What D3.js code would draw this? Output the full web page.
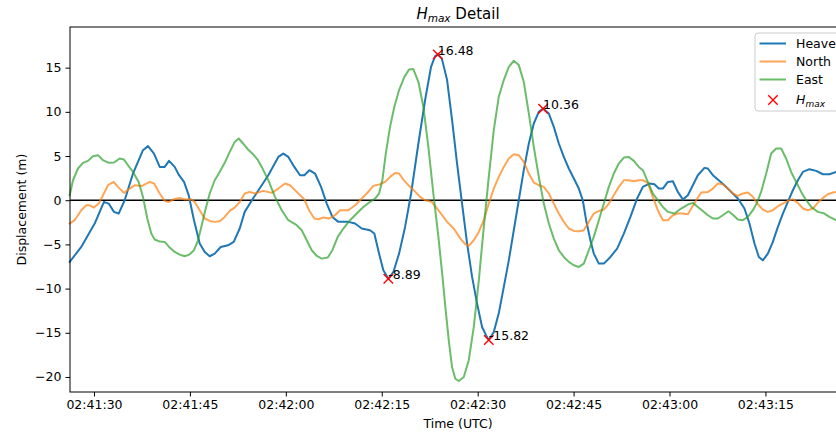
<!DOCTYPE html>
<html>
<head>
<meta charset="utf-8">
<script src="https://cdn.jsdelivr.net/npm/d3@7"></script>
<style>
  html, body { margin: 0; padding: 0; background: #fff; }
  svg { display: block; font-family: "DejaVu Sans", sans-serif; }
</style>
</head>
<body>
<div id="chart"></div>
<script>
// seconds after 02:41:30 UTC, displacement (m)
const heave = [
  [-3.80,-6.98],[-1.99,-5.29],[0.11,-2.64],[1.56,-0.19],[2.30,-0.38],[3.13,-1.32],[3.86,-1.51],
  [4.80,0],[6.10,3.02],[7.66,5.66],[8.45,6.12],[9.39,5.28],[10.28,3.77],[11.06,3.77],[11.73,4.45],
  [12.62,3.77],[13.30,2.83],[14.08,2.07],[14.81,0.57],[15.64,-2.26],[16.53,-4.9],[17.32,-5.85],
  [18.10,-6.34],[18.88,-6.04],[19.82,-5.29],[20.96,-5.1],[21.85,-4.72],[22.79,-3.2],[23.57,-1.32],
  [24.87,0.19],[27.26,2.83],[28.83,4.9],[29.61,5.28],[30.39,4.9],[31.33,3.77],[32.22,2.83],
  [32.90,2.83],[33.68,3.4],[34.57,3.02],[35.51,1.51],[36.40,-0.38],[37.28,-1.89],[38.21,-2.45],
  [39.78,-2.45],[40.83,-2.64],[41.87,-3.2],[43.17,-3.4],[43.84,-3.77],[44.58,-6.04],[45.25,-7.93],
  [46.03,-8.89],[46.82,-8.12],[47.71,-6.04],[48.65,-3.02],[49.59,0.76],[50.73,6.42],[51.78,11.33],
  [52.71,15.1],[53.34,16.3],[53.76,16.48],[54.39,16.05],[55.22,13.6],[56.00,9.06],[56.78,4.15],
  [57.56,-0.38],[58.35,-4.9],[59.13,-8.68],[59.91,-11.7],[60.69,-14.35],[61.32,-15.3],[61.74,-15.82],
  [62.52,-14.9],[63.30,-12.8],[64.09,-9.8],[64.87,-6.8],[65.65,-3.4],[66.43,0],[67.21,3.4],
  [68.00,6.42],[68.78,8.68],[69.56,10.0],[70.23,10.36],[71.13,9.8],[71.91,8.3],[72.69,6.42],
  [73.47,4.9],[74.25,3.59],[75.04,2.45],[75.82,1.32],[76.44,0],[76.96,-2.26],[77.63,-4.53],
  [78.16,-6.04],[78.95,-7.17],[79.73,-7.17],[80.76,-6.42],[81.81,-5.47],[82.86,-3.77],[83.89,-1.89],
  [84.94,0.2],[85.83,1.51],[86.86,1.89],[87.64,1.81],[88.33,1.32],[88.96,1.32],[89.74,2.07],
  [90.52,2.15],[91.30,0.94],[92.09,0.08],[92.87,0.57],[93.65,1.7],[94.43,2.83],[95.46,3.66],
  [95.99,3.59],[96.78,2.83],[97.56,2.34],[98.59,1.7],[99.64,0.94],[100.69,0.19],[101.72,-0.94],
  [102.50,-2.64],[103.29,-4.9],[103.97,-6.42],[104.60,-6.8],[105.38,-6.04],[106.16,-4.72],
  [106.95,-3.02],[107.73,-1.51],[108.51,-0.19],[109.29,1.13],[110.07,2.26],[110.86,3.2],
  [111.89,3.51],[112.94,3.32],[113.99,2.94],[115.02,2.94],[116.06,3.2]
];

const north = [
  [-3.80,-2.64],[-3.02,-2.26],[-1.99,-1.13],[-1.20,-0.57],[-0.67,-0.57],[0,-0.83],[0.74,-0.38],
  [1.41,0.57],[2.19,1.7],[3.08,2.07],[3.75,1.51],[4.69,0.83],[5.58,1.32],[6.37,1.7],[7.51,1.62],
  [8.71,2.07],[9.39,1.89],[10.28,0.76],[11.06,-0.08],[11.73,-0.19],[12.51,0.11],[13.41,0.26],
  [14.19,0.08],[15.22,0.11],[15.75,-0.19],[16.53,-1.13],[17.32,-2.07],[18.10,-2.34],[18.88,-2.45],
  [19.66,-2.38],[20.44,-1.89],[21.23,-1.21],[22.01,-0.83],[22.79,-0.19],[23.57,0.76],[24.35,0.94],
  [25.14,0.76],[26.48,1.06],[27.80,0.83],[28.83,1.32],[29.88,1.89],[30.66,1.7],[31.71,0.94],
  [32.90,0.08],[33.63,-1.13],[34.46,-2.07],[35.09,-2.15],[35.87,-1.96],[36.76,-2.07],[37.70,-1.7],
  [38.48,-1.13],[39.78,-1.13],[40.83,-0.57],[41.76,0.11],[42.66,0.76],[43.69,1.62],[44.74,1.81],
  [45.52,2.07],[46.30,2.64],[47.08,3.09],[47.71,3.02],[48.38,2.34],[49.16,1.7],[50.10,1.06],
  [50.99,0.38],[51.78,0],[52.82,-0.19],[53.86,-1.13],[55.22,-2.45],[56.26,-3.2],[57.30,-4.34],
  [58.08,-4.98],[58.61,-5.17],[59.39,-4.53],[60.18,-3.59],[60.96,-2.26],[61.74,-0.38],[62.52,1.32],
  [63.30,2.64],[64.09,3.77],[64.87,4.72],[65.65,5.21],[66.43,5.1],[67.21,4.34],[68.00,3.02],
  [68.78,2.0],[69.56,1.7],[70.34,1.51],[71.13,0.76],[71.91,-0.38],[72.69,-1.51],[73.47,-2.45],
  [74.25,-3.2],[75.04,-3.47],[75.82,-3.51],[76.60,-3.4],[77.38,-2.45],[78.16,-1.51],[78.95,-1.21],
  [79.73,-1.06],[80.51,-0.38],[81.29,0.57],[82.07,1.51],[82.86,2.26],[83.64,2.26],[84.42,2.15],
  [85.20,2.26],[85.83,2.26],[86.61,1.96],[87.39,0.38],[88.17,-1.13],[88.96,-2.26],[89.74,-2.26],
  [90.52,-1.7],[91.30,-1.51],[92.09,-1.51],[92.87,-1.58],[93.54,-0.76],[94.17,0],[94.95,0.87],
  [96.00,0.94],[96.78,1.32],[97.56,1.89],[98.34,1.81],[99.12,1.32],[99.91,0.76],[100.69,0.49],
  [101.47,0.76],[102.25,0.87],[103.04,0.38],[103.82,-0.45],[104.60,-1.06],[105.38,-1.32],
  [106.16,-1.13],[106.95,-0.68],[107.73,-0.38],[108.51,-0.08],[109.29,0.11],[110.07,-0.3],
  [110.86,-0.94],[111.64,-1.13],[112.42,-0.94],[113.20,-0.26],[113.99,0.26],[114.77,0.68],
  [115.55,0.87],[116.06,0.94]
];

const east = [
  [-3.80,0.57],[-3.28,2.26],[-2.50,3.59],[-1.72,4.23],[-0.94,4.45],[-0.16,4.98],[0.63,5.1],
  [1.41,4.53],[2.30,4.23],[3.13,4.27],[4.02,4.72],[4.69,4.6],[5.32,3.96],[6.10,3.2],[6.99,2.07],
  [7.66,0.38],[8.34,-2.07],[8.96,-3.77],[9.49,-4.45],[10.28,-4.68],[11.06,-4.72],[11.84,-5.36],
  [12.62,-5.85],[13.41,-6.15],[14.19,-6.34],[14.97,-6.12],[15.64,-5.66],[16.27,-4.53],[16.78,-3.02],
  [17.41,-1.13],[18.10,0.76],[18.88,2.26],[19.66,3.2],[20.44,4.23],[21.23,5.47],[22.01,6.6],
  [22.63,6.98],[23.31,6.42],[24.09,5.74],[24.87,5.21],[25.65,4.53],[26.23,3.77],[27.26,2.26],
  [28.31,0.38],[29.36,-1.13],[30.39,-2.26],[31.71,-2.83],[32.49,-3.4],[33.27,-4.53],[34.05,-5.66],
  [34.84,-6.31],[35.62,-6.61],[36.56,-6.49],[37.28,-5.66],[38.12,-4.15],[39.00,-3.2],[40.04,-2.26],
  [41.09,-1.51],[42.12,-0.76],[43.17,-0.19],[43.95,0.19],[44.58,0.76],[45.10,2.26],[45.63,5.28],
  [46.30,8.3],[46.97,10.57],[47.71,12.46],[48.54,13.96],[49.27,14.8],[49.94,14.84],[50.73,13.4],
  [51.51,10.57],[52.29,6.04],[53.07,0.76],[53.86,-4.15],[54.48,-8.5],[54.95,-12.1],[55.48,-15.85],
  [56.00,-18.9],[56.51,-20.2],[57.05,-20.46],[57.83,-20.0],[58.61,-18.1],[59.39,-14.35],
  [60.18,-9.06],[60.96,-3.02],[61.74,2.64],[62.52,7.93],[63.30,11.7],[64.09,13.6],[64.87,15.1],
  [65.65,15.78],[66.43,15.29],[67.21,13.4],[68.00,9.82],[68.78,6.04],[69.56,2.64],[70.34,-0.38],
  [71.13,-2.64],[71.91,-4.34],[72.69,-5.66],[73.47,-6.42],[74.25,-6.98],[75.04,-7.36],[75.82,-7.55],
  [76.60,-7.17],[77.38,-5.66],[78.16,-4.15],[78.95,-2.26],[79.73,-0.38],[80.51,1.51],[81.29,3.02],
  [82.07,4.15],[82.86,4.83],[83.64,4.9],[84.42,4.45],[85.20,3.77],[85.83,3.4],[86.61,2.07],
  [87.39,0.76],[88.17,0],[88.96,-0.76],[89.74,-1.32],[90.77,-1.51],[91.82,-0.94],[92.87,-0.49],
  [93.65,-0.3],[94.43,-0.76],[95.21,-1.21],[96.00,-1.7],[96.78,-2.07],[97.56,-2.07],[98.34,-1.7],
  [99.22,-1.25],[100.00,-1.7],[100.69,-2.19],[101.47,-2.26],[102.25,-1.89],[103.04,-1.13],
  [103.66,-0.3],[104.33,0.94],[105.12,3.02],[105.90,5.28],[106.68,5.85],[107.46,5.85],[108.24,4.72],
  [109.02,3.2],[109.81,2.07],[110.59,0.94],[111.37,0],[112.16,-0.76],[113.20,-1.32],[114.21,-1.51],
  [115.02,-1.89],[116.06,-2.26]
];

// Hmax points (crests / troughs of the highest wave)
const hmaxPoints = [[46.03,-8.89],[53.76,16.48],[61.74,-15.82],[70.23,10.36]];

const yTicks = [-20, -15, -10, -5, 0, 5, 10, 15];
const seriesNames = ["Heave", "North", "East"];

const t0 = Date.UTC(2021, 0, 1, 2, 41, 30);
const toDate = s => new Date(t0 + s * 1000);

const width = 836, height = 434;
const margin = { top: 27, right: -10, bottom: 42, left: 70 };

const svg = d3.select("#chart").append("svg")
  .attr("width", width)
  .attr("height", height);

// Scales
const x = d3.scaleUtc()
  .domain([toDate(-3.75), toDate(117.6)])
  .range([margin.left, width - margin.right]);

const y = d3.scaleLinear()
  .domain([-21.7, 19.6])
  .range([height - margin.bottom, margin.top]);

const colors = { Heave: "#1f77b4", North: "#ff7f0e", East: "#2ca02c" };
const alphas = { Heave: 1, North: 0.7, East: 0.7 };

// Axes
svg.append("g")
  .attr("transform", `translate(0,${height - margin.bottom})`)
  .call(d3.axisBottom(x)
    .ticks(d3.utcSecond.every(15))
    .tickFormat(d3.utcFormat("%H:%M:%S"))
    .tickSize(4.5).tickPadding(4))
  .call(g => g.select(".domain").remove())
  .call(g => g.selectAll("text").attr("font-size", 12.5).attr("fill", "#000").attr("font-family", "DejaVu Sans"))
  .call(g => g.selectAll("line").attr("stroke", "#000").attr("stroke-width", 1));

svg.append("g")
  .attr("transform", `translate(${margin.left},0)`)
  .call(d3.axisLeft(y).tickValues(yTicks).tickSize(4.5).tickPadding(4))
  .call(g => g.select(".domain").remove())
  .call(g => g.selectAll("text").attr("font-size", 12.5).attr("fill", "#000").attr("font-family", "DejaVu Sans"))
  .call(g => g.selectAll("line").attr("stroke", "#000").attr("stroke-width", 1));

// zero line
svg.append("line")
  .attr("x1", margin.left).attr("x2", width - margin.right)
  .attr("y1", y(0)).attr("y2", y(0))
  .attr("stroke", "#000").attr("stroke-width", 1.4);

// Shapes
const line = d3.line()
  .x(d => x(toDate(d[0])))
  .y(d => y(d[1]));

const seriesData = { Heave: heave, North: north, East: east };

svg.append("g")
  .attr("fill", "none")
  .attr("stroke-width", 2)
  .attr("stroke-linejoin", "round")
  .attr("stroke-linecap", "square")
  .selectAll("path")
  .data(seriesNames)
  .join("path")
  .attr("stroke", d => colors[d])
  .attr("stroke-opacity", d => alphas[d])
  .attr("d", d => line(seriesData[d]));

// Hmax markers
const cross = d3.symbol().type(d3.symbolX).size(60);
svg.append("g")
  .selectAll("path")
  .data(hmaxPoints)
  .join("path")
  .attr("transform", d => `translate(${x(toDate(d[0]))},${y(d[1])})`)
  .attr("d", cross)
  .attr("fill", "none")
  .attr("stroke", "#ff0000")
  .attr("stroke-width", 1.4);

svg.append("g")
  .selectAll("text")
  .data(hmaxPoints)
  .join("text")
  .attr("x", d => x(toDate(d[0])))
  .attr("y", d => y(d[1]))
  .attr("font-size", 12.5)
  .attr("fill", "#000")
  .text(d => d[1].toFixed(2));

// frame
svg.append("rect")
  .attr("x", margin.left).attr("y", margin.top)
  .attr("width", width - margin.right - margin.left)
  .attr("height", height - margin.bottom - margin.top)
  .attr("fill", "none").attr("stroke", "#000").attr("stroke-width", 1);

// Title
const title = svg.append("text")
  .attr("x", (margin.left + width - margin.right) / 2)
  .attr("y", 19)
  .attr("text-anchor", "middle")
  .attr("font-size", 15);
title.append("tspan").attr("font-style", "italic").text("H");
title.append("tspan").attr("font-style", "italic").attr("font-size", 10.5).attr("dy", 3).text("max");
title.append("tspan").attr("dy", -3).text(" Detail");

// axis labels
svg.append("text")
  .attr("x", (margin.left + width - margin.right) / 2)
  .attr("y", 428)
  .attr("text-anchor", "middle")
  .attr("font-size", 12.5)
  .text("Time (UTC)");

svg.append("text")
  .attr("transform", `translate(26,${(margin.top + height - margin.bottom) / 2}) rotate(-90)`)
  .attr("text-anchor", "middle")
  .attr("font-size", 12.5)
  .text("Displacement (m)");

// Legend
const legend = svg.append("g").attr("transform", "translate(755,33)");
legend.append("rect")
  .attr("width", 88).attr("height", 78)
  .attr("rx", 3)
  .attr("fill", "#fff").attr("fill-opacity", 0.8)
  .attr("stroke", "#cccccc").attr("stroke-width", 1);

seriesNames.forEach((name, i) => {
  const yy = 10.5 + i * 18;
  legend.append("line")
    .attr("x1", 4.5).attr("x2", 31)
    .attr("y1", yy).attr("y2", yy)
    .attr("stroke", colors[name]).attr("stroke-opacity", alphas[name])
    .attr("stroke-width", 2);
  legend.append("text")
    .attr("x", 41).attr("y", yy + 4.5)
    .attr("font-size", 12.5)
    .text(name);
});

legend.append("path")
  .attr("transform", "translate(18,67)")
  .attr("d", cross)
  .attr("fill", "none").attr("stroke", "#ff0000").attr("stroke-width", 1.4);

const lh = legend.append("text").attr("x", 41).attr("y", 71).attr("font-size", 12.5);
lh.append("tspan").attr("font-style", "italic").text("H");
lh.append("tspan").attr("font-style", "italic").attr("font-size", 9).attr("dy", 2.5).text("max");
</script>
</body>
</html>
